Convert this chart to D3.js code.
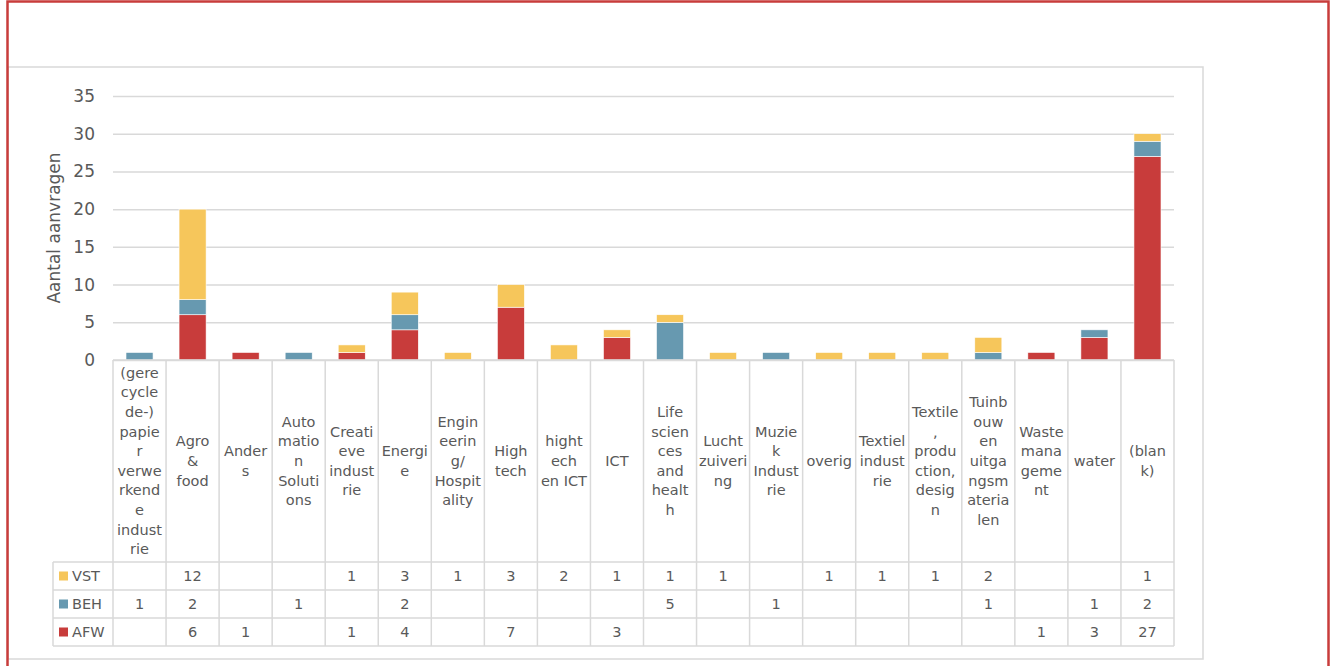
<!DOCTYPE html>
<html>
<head>
<meta charset="utf-8">
<script src="https://cdn.jsdelivr.net/npm/d3@7"></script>
<style>
  body { margin: 0; background: #fff; }
  svg text { font-family: "DejaVu Sans", sans-serif; fill: #595959; }
</style>
</head>
<body>
<div id="chart"></div>
<script>
// categories and how Excel wrapped them in the data table
var categories = ['(gerecyclede-) papier verwerkende industrie', 'Agro & food', 'Anders', 'Automation Solutions',
  'Creatieve industrie', 'Energie', 'Engineering/ Hospitality', 'High tech', 'hightech en ICT', 'ICT',
  'Life sciences and health', 'Luchtzuivering', 'Muziek Industrie', 'overig', 'Textiel industrie',
  'Textile, production, design', 'Tuinbouw en uitgangsmaterialen', 'Waste management', 'water', '(blank)'];
var labelLines = [
  ['(gere', 'cycle', 'de-)', 'papie', 'r', 'verwe', 'rkend', 'e', 'indust', 'rie'],
  ['Agro', '&', 'food'], ['Ander', 's'], ['Auto', 'matio', 'n', 'Soluti', 'ons'],
  ['Creati', 'eve', 'indust', 'rie'], ['Energi', 'e'], ['Engin', 'eerin', 'g/', 'Hospit', 'ality'],
  ['High', 'tech'], ['hight', 'ech', 'en ICT'], ['ICT'], ['Life', 'scien', 'ces', 'and', 'healt', 'h'],
  ['Lucht', 'zuiveri', 'ng'], ['Muzie', 'k', 'Indust', 'rie'], ['overig'], ['Textiel', 'indust', 'rie'],
  ['Textile', ',', 'produ', 'ction,', 'desig', 'n'], ['Tuinb', 'ouw', 'en', 'uitga', 'ngsm', 'ateria', 'len'],
  ['Waste', 'mana', 'geme', 'nt'], ['water'], ['(blan', 'k)']];

var VST = [null, 12, null, null, 1, 3, 1, 3, 2, 1, 1, 1, null, 1, 1, 1, 2, null, null, 1];
var BEH = [1, 2, null, 1, null, 2, null, null, null, null, 5, null, 1, null, null, null, 1, null, 1, 2];
var AFW = [null, 6, 1, null, 1, 4, null, 7, null, 3, null, null, null, null, null, null, null, 1, 3, 27];

var seriesNames = ['VST', 'BEH', 'AFW'];
var seriesColors = {VST: '#F6C65B', BEH: '#6799B0', AFW: '#C83C3B'};
var yTicks = [0, 5, 10, 15, 20, 25, 30, 35];

var width = 1335, height = 666;
var svg = d3.select('#chart').append('svg')
  .attr('width', width).attr('height', height);

// grey chart area frame (the red frame goes on top at the end)
svg.append('rect')
  .attr('x', 8).attr('y', 67).attr('width', 1195).attr('height', 592)
  .attr('fill', 'none').attr('stroke', '#D9D9D9').attr('stroke-width', 1.5);

var plotL = 113, plotR = 1174, plotT = 96, plotB = 360;
var x = d3.scaleBand().domain(categories).range([plotL, plotR]).paddingInner(0);
var y = d3.scaleLinear().domain([0, 35]).range([plotB, plotT]);

// y axis with gridlines
var yAxis = svg.append('g')
  .attr('transform', 'translate(' + plotL + ',0)')
  .call(d3.axisLeft(y).tickValues(yTicks).tickSize(-(plotR - plotL)).tickPadding(18));
yAxis.select('.domain').remove();
yAxis.selectAll('.tick line').attr('stroke', '#D9D9D9').attr('stroke-width', 1.5);
yAxis.selectAll('.tick text')
  .style('font-size', '17px').style('font-family', '"DejaVu Sans", sans-serif').attr('fill', '#595959');

svg.append('text')
  .attr('transform', 'translate(60,228) rotate(-90)')
  .attr('text-anchor', 'middle')
  .style('font-size', '17px')
  .text('Aantal aanvragen');

// stacked bars: AFW at the bottom, then BEH, then VST
var rows = categories.map(function(c, i) {
  return {cat: c, AFW: AFW[i] || 0, BEH: BEH[i] || 0, VST: VST[i] || 0};
});
var stack = d3.stack().keys(['AFW', 'BEH', 'VST'])(rows);
var bw = x.bandwidth();
svg.append('g').selectAll('g')
  .data(stack).join('g')
  .attr('fill', function(d) { return seriesColors[d.key]; })
  .selectAll('rect')
  .data(function(d) { return d.filter(function(p) { return p[1] > p[0]; }); })
  .join('rect')
  .attr('x', function(d) { return x(d.data.cat) + bw * 0.245; })
  .attr('width', bw * 0.51)
  .attr('y', function(d) { return y(d[1]); })
  .attr('height', function(d) { return y(d[0]) - y(d[1]); })
  .attr('stroke', '#fff').attr('stroke-width', 0.6);

// data table below the plot
var labelBottom = 562, rowH = 28, legendLeft = 53;
var grid = svg.append('g').attr('stroke', '#D9D9D9').attr('stroke-width', 1.5);
grid.append('line').attr('x1', plotL).attr('x2', plotR).attr('y1', plotB).attr('y2', plotB);
for (var r = 0; r <= 3; r++) {
  grid.append('line').attr('x1', legendLeft).attr('x2', plotR)
    .attr('y1', labelBottom + r * rowH).attr('y2', labelBottom + r * rowH);
}
grid.append('line').attr('x1', legendLeft).attr('x2', legendLeft)
  .attr('y1', labelBottom).attr('y2', labelBottom + 3 * rowH);
categories.concat([null]).forEach(function(c, i) {
  var xx = plotL + i * bw;
  grid.append('line').attr('x1', xx).attr('x2', xx).attr('y1', plotB).attr('y2', labelBottom + 3 * rowH);
});

// wrapped category labels
var lineH = 19.6;
categories.forEach(function(c, i) {
  var lines = labelLines[i];
  var cy = (plotB + labelBottom) / 2 - (lines.length - 1) * lineH / 2;
  var t = svg.append('text')
    .attr('text-anchor', 'middle')
    .style('font-size', '14.5px');
  lines.forEach(function(l, k) {
    t.append('tspan')
      .attr('x', x(c) + bw / 2)
      .attr('y', cy + k * lineH)
      .attr('dy', '0.35em')
      .text(l);
  });
});

// legend keys and values
var seriesData = {VST: VST, BEH: BEH, AFW: AFW};
seriesNames.forEach(function(s, r) {
  var cy = labelBottom + r * rowH + rowH / 2;
  svg.append('rect')
    .attr('x', 59).attr('y', cy - 4.5).attr('width', 9).attr('height', 9)
    .attr('fill', seriesColors[s]);
  svg.append('text')
    .attr('x', 72).attr('y', cy).attr('dy', '0.35em')
    .style('font-size', '14.5px')
    .text(s);
  seriesData[s].forEach(function(v, i) {
    if (v == null) return;
    svg.append('text')
      .attr('x', x(categories[i]) + bw / 2).attr('y', cy).attr('dy', '0.35em')
      .attr('text-anchor', 'middle')
      .style('font-size', '14.5px')
      .text(v);
  });
});

// outer red frame
svg.append('rect')
  .attr('x', 7.5).attr('y', 1.5).attr('width', 1321).attr('height', 700)
  .attr('fill', 'none').attr('stroke', '#C83C3B').attr('stroke-width', 2.5);
</script>
</body>
</html>
